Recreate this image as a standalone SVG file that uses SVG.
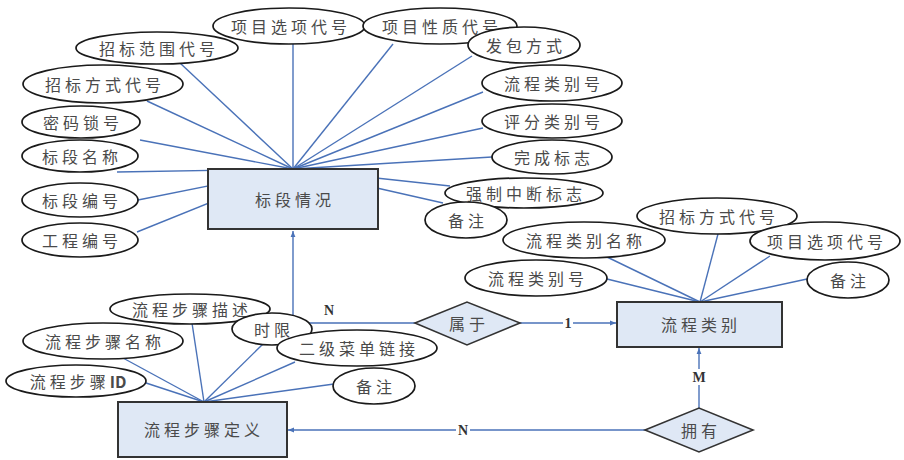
<svg xmlns="http://www.w3.org/2000/svg" width="904" height="460" viewBox="0 0 904 460">
<defs>
<style>
.attr ellipse{fill:#fff;stroke:#1a1a1a;stroke-width:1.7}
.ent rect{fill:#dfe8f5;stroke:#333;stroke-width:2}
.rel polygon{fill:#dfe8f5;stroke:#333;stroke-width:1.6}
text.t{font-family:"Noto Sans CJK SC","Noto Sans",sans-serif;font-size:16px;letter-spacing:4px;fill:#4a4a4a;text-anchor:middle;dominant-baseline:central}
.conn line,.conn polyline{stroke:#4a72b8;stroke-width:1.4;fill:none}
text.c{font-family:"Liberation Serif",serif;font-size:14px;font-weight:bold;fill:#333;text-anchor:middle;dominant-baseline:central}
</style>
<marker id="arr" viewBox="0 0 10 10" refX="10" refY="5" markerWidth="6" markerHeight="6" orient="auto" markerUnits="userSpaceOnUse">
<path d="M0,1 L10,5 L0,9 z" fill="#4a72b8"/>
</marker>
</defs>
<rect width="904" height="460" fill="#fff"/>
<g id="connectors" class="conn">
<line x1="293" y1="169" x2="293" y2="44"/>
<line x1="293" y1="169" x2="393" y2="44"/>
<line x1="293" y1="169" x2="180" y2="63"/>
<line x1="293" y1="169" x2="147" y2="101"/>
<line x1="293" y1="169" x2="140" y2="140"/>
<line x1="293" y1="169" x2="117" y2="172"/>
<line x1="293" y1="169" x2="138" y2="200"/>
<line x1="293" y1="169" x2="137" y2="232"/>
<line x1="293" y1="169" x2="472" y2="56"/>
<line x1="293" y1="169" x2="483" y2="92"/>
<line x1="293" y1="169" x2="483" y2="128"/>
<line x1="293" y1="169" x2="492" y2="157"/>
<line x1="293" y1="169" x2="450" y2="186"/>
<line x1="293" y1="169" x2="443" y2="203"/>
<line x1="204" y1="402" x2="192" y2="323"/>
<line x1="204" y1="402" x2="263" y2="344"/>
<line x1="204" y1="402" x2="295" y2="362"/>
<line x1="204" y1="402" x2="123" y2="358"/>
<line x1="204" y1="402" x2="143" y2="382"/>
<line x1="204" y1="402" x2="334" y2="384"/>
<line x1="700" y1="302" x2="718" y2="234"/>
<line x1="700" y1="302" x2="607" y2="257"/>
<line x1="700" y1="302" x2="770" y2="256"/>
<line x1="700" y1="302" x2="607" y2="279"/>
<line x1="700" y1="302" x2="807" y2="279"/>
<polyline points="415,323 293,323 293,231" marker-end="url(#arr)"/>
<line x1="520" y1="323" x2="616" y2="323" marker-end="url(#arr)"/>
<line x1="699" y1="408" x2="699" y2="348" marker-end="url(#arr)"/>
<line x1="645" y1="430" x2="288" y2="430" marker-end="url(#arr)"/>
<text class="c" x="329" y="310">N</text>
<rect x="563" y="315" width="10" height="16" fill="#fff"/>
<text class="c" x="568" y="323">1</text>
<rect x="691" y="369" width="17" height="16" fill="#fff"/>
<text class="c" x="699" y="377">M</text>
<rect x="456" y="422" width="14" height="16" fill="#fff"/>
<text class="c" x="463" y="430">N</text>
</g>
<g id="e_bdqk" class="ent"><rect x="208" y="169" width="170" height="60"/><text class="t" x="295" y="199">标段情况</text></g>
<g id="e_lclb" class="ent"><rect x="617" y="302" width="165" height="45"/><text class="t" x="701" y="324">流程类别</text></g>
<g id="e_lcbzdy" class="ent"><rect x="118" y="402" width="169" height="55"/><text class="t" x="204" y="429">流程步骤定义</text></g>
<g id="r_sy" class="rel"><polygon points="415,323 467,302 520,323 467,345"/><text class="t" x="469" y="323">属于</text></g>
<g id="r_yy" class="rel"><polygon points="645,430 699,408 753,430 699,452"/><text class="t" x="701" y="430">拥有</text></g>
<g id="a_xmxxdh" class="attr"><ellipse cx="289" cy="26" rx="76" ry="18"/><text class="t" x="291" y="26">项目选项代号</text></g>
<g id="a_xmxzdh" class="attr"><ellipse cx="440" cy="26" rx="77" ry="18"/><text class="t" x="442" y="26">项目性质代号</text></g>
<g id="a_fbfs" class="attr"><ellipse cx="524" cy="45" rx="56" ry="18"/><text class="t" x="526" y="45">发包方式</text></g>
<g id="a_zbfwdh" class="attr"><ellipse cx="157" cy="48" rx="81" ry="16"/><text class="t" x="159" y="48">招标范围代号</text></g>
<g id="a_zbfsdh" class="attr"><ellipse cx="103" cy="84" rx="80" ry="19"/><text class="t" x="105" y="84">招标方式代号</text></g>
<g id="a_mmsh" class="attr"><ellipse cx="81" cy="122" rx="59" ry="16"/><text class="t" x="83" y="122">密码锁号</text></g>
<g id="a_bdmc" class="attr"><ellipse cx="80" cy="156" rx="58" ry="16"/><text class="t" x="82" y="156">标段名称</text></g>
<g id="a_bdbh" class="attr"><ellipse cx="80" cy="200" rx="58" ry="17"/><text class="t" x="82" y="200">标段编号</text></g>
<g id="a_gcbh" class="attr"><ellipse cx="80" cy="240" rx="58" ry="17"/><text class="t" x="82" y="240">工程编号</text></g>
<g id="a_lclbh1" class="attr"><ellipse cx="552" cy="83" rx="70" ry="18"/><text class="t" x="554" y="83">流程类别号</text></g>
<g id="a_pflbh" class="attr"><ellipse cx="552" cy="121" rx="70" ry="17"/><text class="t" x="554" y="121">评分类别号</text></g>
<g id="a_wcbz" class="attr"><ellipse cx="552" cy="157" rx="60" ry="17"/><text class="t" x="554" y="157">完成标志</text></g>
<g id="a_qzzdbz" class="attr"><ellipse cx="524" cy="193" rx="79" ry="15"/><text class="t" x="526" y="193">强制中断标志</text></g>
<g id="a_bz1" class="attr"><ellipse cx="466" cy="220" rx="41" ry="18"/><text class="t" x="468" y="220">备注</text></g>
<g id="a_zbfsdh2" class="attr"><ellipse cx="717" cy="216" rx="80" ry="18"/><text class="t" x="719" y="216">招标方式代号</text></g>
<g id="a_lclbmc" class="attr"><ellipse cx="584" cy="240" rx="81" ry="18"/><text class="t" x="586" y="240">流程类别名称</text></g>
<g id="a_xmxxdh2" class="attr"><ellipse cx="825" cy="241" rx="75" ry="19"/><text class="t" x="827" y="241">项目选项代号</text></g>
<g id="a_lclbh2" class="attr"><ellipse cx="536" cy="278" rx="71" ry="18"/><text class="t" x="538" y="278">流程类别号</text></g>
<g id="a_bz2" class="attr"><ellipse cx="848" cy="280" rx="41" ry="18"/><text class="t" x="850" y="280">备注</text></g>
<g id="a_lcbzms" class="attr"><ellipse cx="190" cy="309" rx="80" ry="15"/><text class="t" x="192" y="309">流程步骤描述</text></g>
<g id="a_sx" class="attr"><ellipse cx="272" cy="329" rx="40" ry="16"/><text class="t" x="274" y="329">时限</text></g>
<g id="a_ejcdlj" class="attr"><ellipse cx="357" cy="348" rx="80" ry="18"/><text class="t" x="359" y="348">二级菜单链接</text></g>
<g id="a_lcbzmc" class="attr"><ellipse cx="103" cy="341" rx="80" ry="18"/><text class="t" x="105" y="341">流程步骤名称</text></g>
<g id="a_lcbzid" class="attr"><ellipse cx="76" cy="381" rx="70" ry="16"/><text class="t" x="78" y="381">流程步骤<tspan letter-spacing="0" font-weight="bold">ID</tspan></text></g>
<g id="a_bz3" class="attr"><ellipse cx="374" cy="386" rx="41" ry="18"/><text class="t" x="376" y="386">备注</text></g>
</svg>
